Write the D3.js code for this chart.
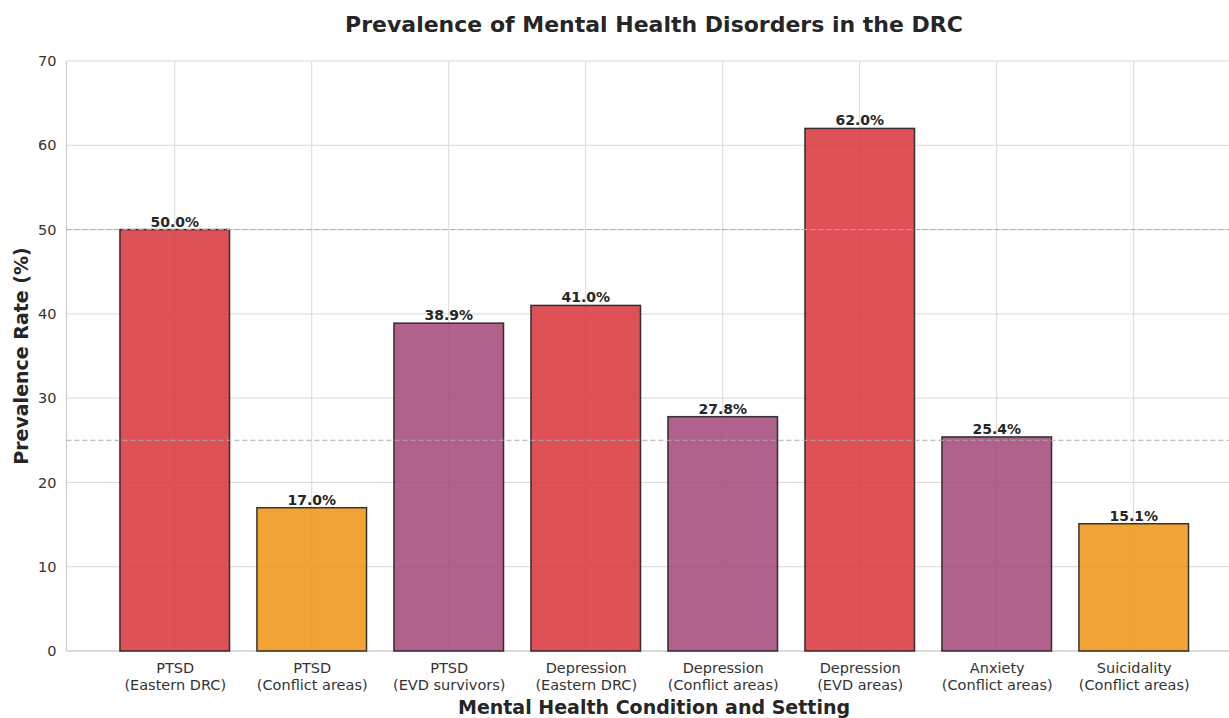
<!DOCTYPE html>
<html><head><meta charset="utf-8">
<script src="https://cdn.jsdelivr.net/npm/d3@7"></script>
<style>body{margin:0;background:#fff}svg{display:block}text{font-family:"DejaVu Sans",sans-serif}</style>
</head><body><svg id="c" width="1229" height="718"></svg>
<script>
const conditions = ["PTSD","PTSD","PTSD","Depression","Depression","Depression","Anxiety","Suicidality"];
const settings = ["(Eastern DRC)","(Conflict areas)","(EVD survivors)","(Eastern DRC)","(Conflict areas)","(EVD areas)","(Conflict areas)","(Conflict areas)"];
const values = [50.0,17.0,38.9,41.0,27.8,62.0,25.4,15.1];
const groups = ["high","conflict","mid","high","mid","high","mid","conflict"];
const yTicks = [0,10,20,30,40,50,60,70];
const refLines = [50,25];
const colorMap = {high:"#d7323a", conflict:"#ee9412", mid:"#a24678"};

const svg = d3.select("#c");
const pL = 66.5, pT = 61, pB = 651, pR = 1229;
const x = d3.scaleLinear().domain([-0.79, 7.79]).range([pL, pL + 8.58*137]);
const y = d3.scaleLinear().domain([0,70]).range([pB, pT]);
const bw = (x(0.4)-x(-0.4));
const idx = d3.range(values.length);

const g = svg.append("g");
// grid
g.selectAll(".hg").data(yTicks).join("line")
  .attr("x1",pL).attr("x2",pR).attr("y1",d=>y(d)).attr("y2",d=>y(d))
  .attr("stroke","#d9d9d9").attr("stroke-width",1);
g.selectAll(".vg").data(idx).join("line")
  .attr("x1",d=>x(d)).attr("x2",d=>x(d)).attr("y1",pT).attr("y2",pB)
  .attr("stroke","#d9d9d9").attr("stroke-width",1);
// spines
g.append("line").attr("x1",pL).attr("x2",pL).attr("y1",pT).attr("y2",pB).attr("stroke","#cccccc").attr("stroke-width",1.2);
g.append("line").attr("x1",pL).attr("x2",pR).attr("y1",pB).attr("y2",pB).attr("stroke","#cccccc").attr("stroke-width",1.2);

// bars
g.selectAll(".bar").data(values).join("rect")
  .attr("x",(d,i)=>x(i)-bw/2).attr("width",bw)
  .attr("y",d=>y(d)).attr("height",d=>y(0)-y(d))
  .attr("fill",(d,i)=>colorMap[groups[i]]).attr("fill-opacity",0.85)
  .attr("stroke","#222").attr("stroke-opacity",0.9).attr("stroke-width",1.5);

// ref lines
g.selectAll(".ref").data(refLines).join("line")
  .attr("x1",pL).attr("x2",pR).attr("y1",d=>y(d)).attr("y2",d=>y(d))
  .attr("stroke","#aaaaaa").attr("stroke-width",1).attr("stroke-dasharray","5,3");

// value labels
g.selectAll(".vl").data(values).join("text")
  .attr("x",(d,i)=>x(i)).attr("y",d=>y(d)-3)
  .attr("text-anchor","middle").attr("font-size",14).attr("font-weight","bold").attr("fill","#262626")
  .text(d=>d.toFixed(1)+"%");

// y axis
const ya = svg.append("g").attr("transform",`translate(${pL},0)`)
  .call(d3.axisLeft(y).tickValues(yTicks).tickSize(0).tickPadding(10));
ya.select(".domain").remove();
ya.selectAll("text").attr("font-size",14.5).attr("fill","#333").attr("font-family","DejaVu Sans");

// x axis
const xa = svg.append("g").attr("transform",`translate(0,${pB})`)
  .call(d3.axisBottom(x).tickValues(idx).tickSize(0).tickFormat(()=>""));
xa.select(".domain").remove();
xa.selectAll(".tick text").each(function(d){
  const t = d3.select(this).attr("font-size",14.5).attr("fill","#333").attr("font-family","DejaVu Sans")
    .attr("y",null).attr("dy",null);
  t.append("tspan").attr("x",0).attr("y",22).text(conditions[d]);
  t.append("tspan").attr("x",0).attr("y",39).text(settings[d]);
});

// titles
svg.append("text").attr("x",654).attr("y",32).attr("text-anchor","middle")
  .attr("font-size",22).attr("font-weight","bold").attr("fill","#262626")
  .text("Prevalence of Mental Health Disorders in the DRC");
svg.append("text").attr("x",654).attr("y",714).attr("text-anchor","middle")
  .attr("font-size",19).attr("font-weight","bold").attr("fill","#262626")
  .text("Mental Health Condition and Setting");
svg.append("text").attr("transform",`translate(28,${(pT+pB)/2}) rotate(-90)`).attr("text-anchor","middle")
  .attr("font-size",19).attr("font-weight","bold").attr("fill","#262626")
  .text("Prevalence Rate (%)");
</script></body></html>
